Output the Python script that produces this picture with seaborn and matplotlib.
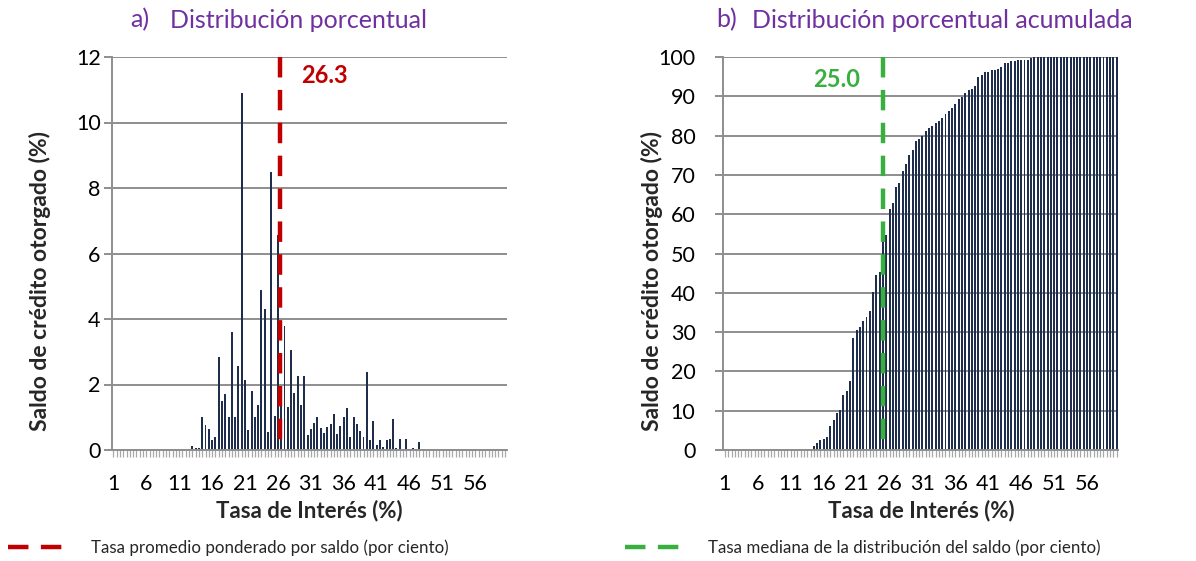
import numpy as np
import pandas as pd
import seaborn as sns
import matplotlib.pyplot as plt

sns.set_theme(style="white")
plt.rcParams['font.family'] = ['Lato', 'DejaVu Sans']

# Interest-rate categories (%), half-point steps
tasa = np.arange(1.0, 61.0, 0.5)
tasa_str = [f"{t:g}" for t in tasa]

# a) Share of credit balance by rate (%)
dist_pct = [
    0, 0, 0, 0, 0, 0, 0, 0, 0, 0,
    0, 0, 0, 0, 0, 0, 0, 0, 0, 0,
    0, 0, 0, 0, 0.12, 0.05, 0.05, 1.0, 0.75, 0.65,
    0.3, 0.4, 2.85, 1.5, 1.7, 1.0, 3.6, 1.0, 2.55, 10.9,
    2.15, 0.62, 1.8, 1.0, 1.38, 4.9, 4.3, 0.55, 8.5, 1.05,
    6.55, 1.55, 3.8, 1.3, 3.05, 1.75, 2.25, 1.38, 2.25, 0.45,
    0.65, 0.82, 1.0, 0.68, 0.52, 0.7, 0.78, 1.1, 0.5, 0.72,
    1.0, 1.28, 0.4, 1.0, 0.8, 0.57, 0.4, 2.38, 0.3, 0.88,
    0.14, 0.32, 0.1, 0.3, 0.34, 0.96, 0.06, 0.35, 0.02, 0.35,
    0.02, 0.05, 0.02, 0.24, 0, 0, 0.02, 0, 0, 0,
    0, 0, 0, 0, 0, 0, 0, 0.02, 0, 0,
    0, 0, 0, 0, 0, 0, 0, 0, 0.02, 0,
]

# b) Cumulative share of credit balance (%)
acum_pct = [
    0, 0, 0, 0, 0, 0, 0, 0, 0, 0,
    0, 0, 0, 0, 0, 0, 0, 0, 0, 0,
    0, 0, 0, 0, 0.1, 0.15, 0.2, 1.1, 1.9, 2.5,
    2.8, 3.2, 6.1, 7.6, 9.3, 10.3, 14.0, 14.9, 17.5, 28.4,
    30.5, 31.2, 32.9, 33.9, 35.3, 40.3, 44.5, 45.2, 53.6, 54.7,
    61.2, 62.9, 66.8, 68.0, 71.0, 72.8, 75.0, 76.4, 78.7, 79.2,
    80.0, 81.2, 82.0, 82.5, 83.2, 83.8, 84.6, 85.6, 86.2, 86.9,
    88.0, 89.2, 89.7, 90.8, 91.5, 91.9, 92.5, 95.0, 95.3, 96.1,
    96.3, 96.6, 96.8, 97.0, 97.5, 98.5, 98.6, 98.9, 98.9, 99.2,
    99.3, 99.3, 99.3, 99.8, 99.9, 99.9, 99.9, 99.9, 99.9, 99.9,
    99.9, 99.9, 99.9, 99.9, 99.9, 99.9, 99.9, 99.9, 100, 100,
    100, 100, 100, 100, 100, 100, 100, 100, 100, 100,
]

tasa_promedio = 26.3   # balance-weighted average rate
tasa_mediana = 25.0    # median rate of the balance distribution

W, H = 1196, 561
BAR = '#1F2E4C'
GRID = '#8E8E8E'
PURPLE = '#7030A0'
RED = '#C00000'
GREEN = '#38B03F'


def fx(px):
    return px / W


def fy(py):
    return 1 - py / H


fig = plt.figure(figsize=(W / 100, H / 100), dpi=100)
ax_a = fig.add_axes([fx(111.7), fy(450), fx(395), 393 / H])
ax_b = fig.add_axes([fx(723.3), fy(450), fx(395), 393 / H])


def to_pos(rate):
    # position of a rate on the categorical axis
    return (rate - tasa[0]) / (tasa[1] - tasa[0])


def style_axis(ax, ymax, ystep, ypad):
    ax.set_ylim(0, ymax)
    ax.set_xlim(-0.5, len(tasa) - 0.5)
    ax.set_yticks(np.arange(0, ymax + 0.1, ystep))
    ax.set_yticklabels([f"{v:g}" for v in np.arange(0, ymax + 0.1, ystep)])
    major = list(range(0, len(tasa), 10))
    ax.set_xticks(major)
    ax.set_xticklabels([tasa_str[i] for i in major])
    ax.set_xticks(range(len(tasa)), minor=True)
    ax.yaxis.grid(True, color=GRID, linewidth=1.4)
    ax.xaxis.grid(False)
    ax.set_axisbelow(True)
    for s in ['top', 'right']:
        ax.spines[s].set_visible(False)
    for s in ['left', 'bottom']:
        ax.spines[s].set_color(GRID)
        ax.spines[s].set_linewidth(1.4)
    ax.tick_params(axis='y', which='major', direction='out', left=True,
                   length=6, width=1.4, color=GRID, pad=ypad,
                   labelsize=15.5, labelcolor='black')
    ax.tick_params(axis='x', which='both', direction='out', bottom=True,
                   length=5, width=0.9, color='#A8A8A8', pad=12,
                   labelsize=15.5, labelcolor='black')
    ax.set_xlabel('')
    ax.set_ylabel('')


df_a = pd.DataFrame({'tasa': tasa_str, 'pct': dist_pct})
df_b = pd.DataFrame({'tasa': tasa_str, 'pct': acum_pct})

sns.barplot(data=df_a, x='tasa', y='pct', order=tasa_str, ax=ax_a,
            color=BAR, saturation=1, width=0.6, linewidth=0, errorbar=None)
sns.barplot(data=df_b, x='tasa', y='pct', order=tasa_str, ax=ax_b,
            color=BAR, saturation=1, width=0.6, linewidth=0, errorbar=None)

style_axis(ax_a, 12, 2, 2)
style_axis(ax_b, 100, 10, 14)

# Reference lines
xa = to_pos(tasa_promedio)
line_a, = ax_a.plot([xa, xa], [12, 0], color=RED, linewidth=3.2,
                    dashes=(4.6, 2.8), solid_capstyle='butt',
                    dash_capstyle='butt', zorder=5,
                    label='Tasa promedio ponderado por saldo (por ciento)')
ax_a.text(xa + 6.4, 11.42, f"{tasa_promedio:.1f}", color=RED, fontsize=17,
          fontweight='bold', ha='left', va='center')

xb = to_pos(tasa_mediana)
line_b, = ax_b.plot([xb, xb], [100, 0], color=GREEN, linewidth=3.2,
                    dashes=(4.6, 2.8), solid_capstyle='butt',
                    dash_capstyle='butt', zorder=5,
                    label='Tasa mediana de la distribución del saldo (por ciento)')
ax_b.text(xb - 7.0, 94.4, f"{tasa_mediana:.1f}", color=GREEN, fontsize=17,
          fontweight='bold', ha='right', va='center')

# Panel titles
fig.text(fx(130), fy(20), 'a)', color=PURPLE, fontsize=18, va='center')
fig.text(fx(170), fy(20), 'Distribución porcentual', color=PURPLE,
         fontsize=18, va='center')
fig.text(fx(716), fy(20), 'b)', color=PURPLE, fontsize=18, va='center')
fig.text(fx(752), fy(20), 'Distribución porcentual acumulada', color=PURPLE,
         fontsize=18, va='center')

# Axis labels
for xc, yc in [(40, 281), (652, 281)]:
    fig.text(fx(xc), fy(yc), 'Saldo de crédito otorgado (%)', rotation=90,
             fontsize=16.5, fontweight='bold', ha='center', va='center')
for xc in [309, 921]:
    fig.text(fx(xc), fy(511), 'Tasa de Interés (%)', fontsize=16,
             fontweight='bold', ha='center', va='center')

# Legends below each panel
fig.legend(handles=[line_a], loc='center left', bbox_to_anchor=(fx(8), fy(548)),
           frameon=False, fontsize=12.2, handlelength=3.3, handletextpad=1.6,
           borderpad=0, borderaxespad=0)
fig.legend(handles=[line_b], loc='center left', bbox_to_anchor=(fx(625), fy(548)),
           frameon=False, fontsize=12.2, handlelength=3.3, handletextpad=1.6,
           borderpad=0, borderaxespad=0)

fig.savefig('out.png', dpi=100, facecolor='white')
